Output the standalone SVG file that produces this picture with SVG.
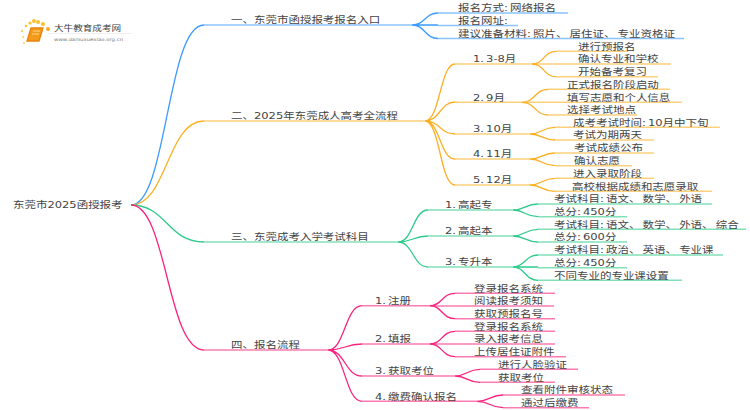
<svg xmlns="http://www.w3.org/2000/svg" width="750" height="410" viewBox="0 0 750 410">
<style>
text{font-family:"DejaVu Sans","Noto Sans CJK SC",sans-serif;font-size:11.5px;fill:#444;word-spacing:-1.5px;transform-box:fill-box;transform-origin:0 100%;transform:scaleY(.82)}
path{fill:none;stroke-width:1.3}
.h{stroke-width:1.5;stroke-opacity:.6}
.b{stroke:#3d9bff}.o{stroke:#fbb024}.g{stroke:#2ecb8b}.p{stroke:#f9247f}
</style>
<rect width="750" height="410" fill="#fff"/>
<g id="logo">
<circle cx="34" cy="21" r="2" fill="#fbc02d"/><circle cx="30" cy="23" r="1.6" fill="#fbc02d"/><circle cx="38" cy="22" r="2" fill="#fbc02d"/><circle cx="43" cy="24" r="2" fill="#fbc02d"/><circle cx="48" cy="29" r="2" fill="#f9a825"/><circle cx="26" cy="26" r="1.3" fill="#fbc02d"/><circle cx="22" cy="31" r="1.2" fill="#fbd35a"/><circle cx="23" cy="37" r="1" fill="#fbd35a"/><circle cx="24" cy="43" r="1" fill="#fbd35a"/>
<path d="M31 28H43L39 41H27Z" style="fill:#f49a1a;stroke:#e8820c"/>
<path d="M33 31H40M32 34H39" style="stroke:#ffd58a;stroke-width:1"/>
<path d="M48 33.500H132" style="stroke:#e4e4e4;stroke-width:.6"/>
<text x="54" y="31" style="font-size:9.600px;fill:#444">大牛教育成考网</text>
<text x="54" y="41" style="font-size:5.400px;fill:#777">www.daniuxuexiao.org.cn</text>
</g>
<g id="connectors">
<path class="b" d="M131 205C167 205 167 25 204 25"/><path class="o" d="M131 205C167 205 167 121 204 121"/><path class="g" d="M131 205C167 205 167 242 204 242"/><path class="p" d="M131 205C167 205 167 350 204 350"/>
<path class="b h" d="M204 25H412"/><path class="o h" d="M204 121H425"/><path class="g h" d="M204 242H398"/><path class="p h" d="M204 350H328"/>
<path class="b" d="M412 25C425 25 425 13 438 13M412 25H438M412 25C425 25 425 38.500 438 38.500"/>
<path class="b h" d="M438 13H568M438 25.500H518M438 38.500H684"/>
<path class="o" d="M425 121C440 121 440 64 455 64M425 121C440 121 440 102 455 102M425 121C440 121 440 134 455 134M425 121C440 121 440 159 455 159M425 121C440 121 440 185 455 185"/>
<path class="o h" d="M455 64H532M455 102.300H522M455 134H530M455 159H530M455 185H530"/>
<path class="o" d="M532 64C544 64 544 51.300 556 51.300M532 64C544 64 544 76.700 556 76.700M522 102.300C535 102.300 535 89.300 548 89.300M522 102.300C535 102.300 535 115 548 115M530 134C542 134 542 127.300 555 127.300M530 134C542 134 542 140 555 140M530 159C542 159 542 153 555 153M530 159C542 159 542 165.700 555 165.700M530 185C542 185 542 178.300 555 178.300M530 185C542 185 542 191.300 555 191.300"/>
<path class="o h" d="M556 51.300H628M532 64H671M556 76.700H658M548 89.300H670M522 102.300H682M548 115H637M555 127.300H720M555 140H654M555 153H654M555 165.700H632M555 178.300H654M555 191.300H712"/>
<path class="g" d="M398 242C413 242 413 210 428 210M398 242C413 242 413 236 428 236M398 242C413 242 413 267 428 267"/>
<path class="g h" d="M428 210H513M428 236H513M428 267H513"/>
<path class="g" d="M513 210C525 210 525 204 538 204M513 210C525 210 525 216.700 538 216.700M513 236C525 236 525 229.300 538 229.300M513 236C525 236 525 242 538 242M513 267C525 267 525 255 538 255M513 267H538M513 267C525 267 525 280.300 538 280.300"/>
<path class="g h" d="M538 204H712M538 216.700H627M538 229.300H746M538 242H627M538 255H723M538 267.700H627M538 280.300H682"/>
<path class="p" d="M328 350C345 350 345 305.700 362 305.700M328 350C345 350 345 344 362 344M328 350C345 350 345 376 362 376M328 350C345 350 345 401.300 362 401.300"/>
<path class="p h" d="M362 305.700H430M362 344H430M362 376H455M362 401.300H477"/>
<path class="p" d="M430 305.700C442 305.700 442 293.300 455 293.300M430 305.700C442 305.700 442 318.700 455 318.700M430 344C442 344 442 331.300 455 331.300M430 344C442 344 442 356.700 455 356.700M455 376C467 376 467 369.300 480 369.300M455 376C467 376 467 382.300 480 382.300M477 401.300C490 401.300 490 395 503 395M477 401.300C490 401.300 490 407.700 503 407.700"/>
<path class="p h" d="M455 293.300H555M430 306H554M455 318.700H555M455 331.300H555M430 344H555M455 356.700H566M480 369.300H578M480 382.300H555M503 395H625M503 407.700H589"/>
</g>
<g id="root"><text x="13" y="208">东莞市2025函授报考</text></g>
<g id="n1"><text x="231" y="23">一、东莞市函授报考报名入口</text>
<text x="458" y="11">报名方式: 网络报名</text><text x="458" y="23.500">报名网址:</text><text x="458" y="36.500">建议准备材料: 照片、 居住证、 专业资格证</text></g>
<g id="n2"><text x="231" y="119">二、2025年东莞成人高考全流程</text>
<text x="473" y="62">1. 3-8月</text><text x="578" y="49.300">进行预报名</text><text x="578" y="62">确认专业和学校</text><text x="578" y="74.700">开始备考复习</text>
<text x="473" y="100.300">2. 9月</text><text x="567" y="87.300">正式报名阶段启动</text><text x="567" y="100.300">填写志愿和个人信息</text><text x="567" y="113">选择考试地点</text>
<text x="473" y="132">3. 10月</text><text x="573" y="125.300">成考考试时间: 10月中下旬</text><text x="573" y="138">考试为期两天</text>
<text x="473" y="157">4. 11月</text><text x="574" y="151">考试成绩公布</text><text x="574" y="163.700">确认志愿</text>
<text x="473" y="183">5. 12月</text><text x="573" y="176.300">进入录取阶段</text><text x="572" y="189.300">高校根据成绩和志愿录取</text></g>
<g id="n3"><text x="231" y="240">三、东莞成考入学考试科目</text>
<text x="445" y="208">1. 高起专</text><text x="554" y="202">考试科目: 语文、 数学、 外语</text><text x="554" y="214.700">总分: 450分</text>
<text x="445" y="234">2. 高起本</text><text x="554" y="227.300">考试科目: 语文、 数学、 外语、 综合</text><text x="554" y="240">总分: 600分</text>
<text x="445" y="265">3. 专升本</text><text x="554" y="253">考试科目: 政治、 英语、 专业课</text><text x="554" y="265.700">总分: 450分</text><text x="554" y="278.300">不同专业的专业课设置</text></g>
<g id="n4"><text x="231" y="348">四、报名流程</text>
<text x="375" y="303.700">1. 注册</text><text x="474" y="291.300">登录报名系统</text><text x="474" y="304">阅读报考须知</text><text x="474" y="316.700">获取预报名号</text>
<text x="375" y="342">2. 填报</text><text x="474" y="329.300">登录报名系统</text><text x="474" y="342">录入报考信息</text><text x="474" y="354.700">上传居住证附件</text>
<text x="375" y="374">3. 获取考位</text><text x="498" y="367.300">进行人脸验证</text><text x="498" y="380.300">获取考位</text>
<text x="375" y="399.300">4. 缴费确认报名</text><text x="521" y="393">查看附件审核状态</text><text x="521" y="405.700">通过后缴费</text></g>
</svg>
